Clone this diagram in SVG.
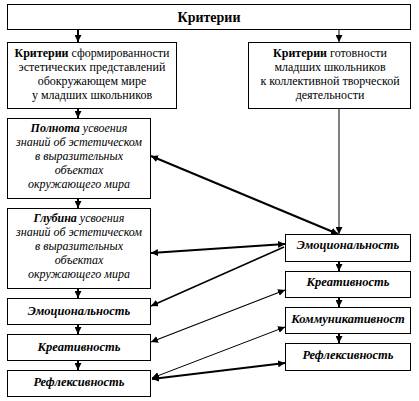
<svg xmlns="http://www.w3.org/2000/svg" width="419" height="401" viewBox="0 0 419 401">
<style>
.box{fill:#fff;stroke:#000;stroke-width:1}
text{font-family:"Liberation Serif","Times New Roman",serif;font-size:12px;fill:#000;text-anchor:middle}
.t{font-size:14px;font-weight:bold}
.i{font-style:italic}
.bi{font-style:italic;font-weight:bold}
.s{font-size:12.5px}
.b{font-weight:bold}
.c{fill:none;stroke:#000}
</style>
<defs>
<marker id="ah" viewBox="0 0 10 10" refX="10" refY="5" markerWidth="7" markerHeight="7" markerUnits="userSpaceOnUse" orient="auto-start-reverse">
<path d="M0,0 L10,5 L0,10 z" fill="#000"/>
</marker>
</defs>
<g id="connectors">
<line class="c" x1="78" y1="30" x2="78" y2="42" stroke-width="2" marker-end="url(#ah)"/>
<line class="c" x1="339" y1="30" x2="339" y2="42" stroke-width="1" marker-end="url(#ah)"/>
<line class="c" x1="78" y1="109" x2="78" y2="118" stroke-width="2" marker-end="url(#ah)"/>
<line class="c" x1="78" y1="199" x2="78" y2="208" stroke-width="2" marker-end="url(#ah)"/>
<line class="c" x1="78" y1="289" x2="78" y2="298" stroke-width="2" marker-end="url(#ah)"/>
<line class="c" x1="78" y1="325" x2="78" y2="334" stroke-width="2" marker-end="url(#ah)"/>
<line class="c" x1="78" y1="361" x2="78" y2="370" stroke-width="2" marker-end="url(#ah)"/>
<line class="c" x1="339" y1="109" x2="339" y2="234" stroke-width="1" marker-end="url(#ah)"/>
<line class="c" x1="339" y1="262" x2="339" y2="271" stroke-width="2" marker-end="url(#ah)"/>
<line class="c" x1="339" y1="298" x2="339" y2="307" stroke-width="2" marker-end="url(#ah)"/>
<line class="c" x1="339" y1="334" x2="339" y2="343" stroke-width="2" marker-end="url(#ah)"/>
<line class="c" x1="151" y1="156" x2="338" y2="234" stroke-width="2" marker-start="url(#ah)" marker-end="url(#ah)"/>
<line class="c" x1="151" y1="253" x2="285" y2="244" stroke-width="2" marker-start="url(#ah)" marker-end="url(#ah)"/>
<line class="c" x1="284" y1="247" x2="151" y2="306" stroke-width="1.5" marker-end="url(#ah)"/>
<line class="c" x1="151" y1="342" x2="285" y2="290" stroke-width="1.2" marker-start="url(#ah)" marker-end="url(#ah)"/>
<line class="c" x1="152" y1="378" x2="285" y2="327" stroke-width="1" marker-start="url(#ah)" marker-end="url(#ah)"/>
<line class="c" x1="152" y1="379" x2="285" y2="363" stroke-width="2" marker-start="url(#ah)" marker-end="url(#ah)"/>
</g>
<g id="n-title">
<rect class="box" x="7.5" y="4.5" width="403" height="25"/>
<text class="t" x="209" y="22">Критерии</text>
</g>
<g id="n-left">
<rect class="box" x="7.5" y="42.5" width="169" height="66"/>
<text x="92" y="57"><tspan class="b">Критерии</tspan> сформированности</text>
<text x="92" y="71">эстетических представлений</text>
<text x="92" y="85">обокружающем мире</text>
<text x="92" y="99">у младших школьников</text>
</g>
<g id="n-right">
<rect class="box" x="248.5" y="42.5" width="162" height="66"/>
<text x="330" y="57"><tspan class="b">Критерии</tspan> готовности</text>
<text x="330" y="71">младших школьников</text>
<text x="330" y="85">к коллективной творческой</text>
<text x="330" y="99">деятельности</text>
</g>
<g id="n-polnota">
<rect class="box" x="7.5" y="118.5" width="143" height="80"/>
<text class="i" x="79" y="132"><tspan class="bi">Полнота</tspan> усвоения</text>
<text class="i" x="79" y="146">знаний об эстетическом</text>
<text class="i" x="79" y="160">в выразительных</text>
<text class="i" x="79" y="174">объектах</text>
<text class="i" x="79" y="188">окружающего мира</text>
</g>
<g id="n-glubina">
<rect class="box" x="7.5" y="208.5" width="143" height="80"/>
<text class="i" x="79" y="222"><tspan class="bi">Глубина</tspan> усвоения</text>
<text class="i" x="79" y="236">знаний об эстетическом</text>
<text class="i" x="79" y="250">в выразительных</text>
<text class="i" x="79" y="264">объектах</text>
<text class="i" x="79" y="278">окружающего мира</text>
</g>
<g id="n-l-emo">
<rect class="box" x="7.5" y="298.5" width="143" height="26"/>
<text class="bi s" x="79" y="315">Эмоциональность</text>
</g>
<g id="n-l-krea">
<rect class="box" x="7.5" y="334.5" width="143" height="26"/>
<text class="bi s" x="79" y="351">Креативность</text>
</g>
<g id="n-l-refl">
<rect class="box" x="7.5" y="370.5" width="143" height="26"/>
<text class="bi s" x="79" y="386">Рефлексивность</text>
</g>
<g id="n-r-emo">
<rect class="box" x="285.5" y="234.5" width="125" height="27"/>
<text class="bi s" x="348" y="249">Эмоциональность</text>
</g>
<g id="n-r-krea">
<rect class="box" x="285.5" y="271.5" width="125" height="26"/>
<text class="bi s" x="348" y="286">Креативность</text>
</g>
<g id="n-r-komm">
<rect class="box" x="285.5" y="307.5" width="125" height="26"/>
<text class="bi s" x="348" y="323">Коммуникативност</text>
</g>
<g id="n-r-refl">
<rect class="box" x="285.5" y="343.5" width="125" height="27"/>
<text class="bi s" x="348" y="359">Рефлексивность</text>
</g>
</svg>
